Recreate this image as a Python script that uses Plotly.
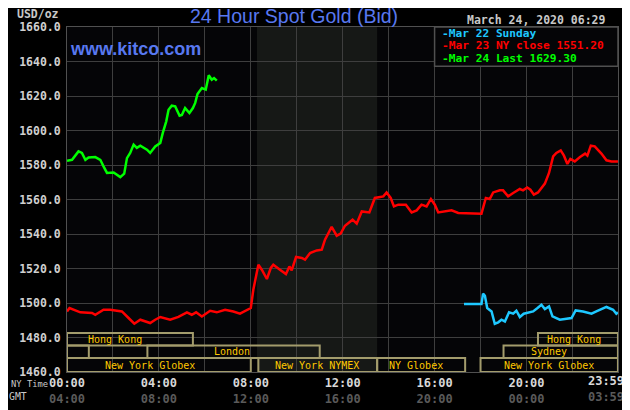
import plotly.graph_objects as go

# hours NY time (0 = 00:00, 23.983 = 23:59) and bid prices
mar24_hours = [0, 0.22, 0.5, 0.65, 0.8, 0.94, 1.23, 1.45, 1.59, 1.74, 2.03, 2.32, 2.49, 2.61, 2.75, 2.9,
               3.04, 3.19, 3.48, 3.62, 3.84, 4.06, 4.17, 4.32, 4.42, 4.56, 4.71, 4.9, 5.0, 5.14, 5.33,
               5.48, 5.58, 5.68, 5.87, 6.04, 6.17, 6.3, 6.4, 6.52]
mar24_price = [1582.5, 1583, 1587.9, 1587, 1583, 1584.4, 1584.6, 1583, 1579.2, 1575.4, 1575.7, 1573,
               1575, 1584, 1587, 1591.8, 1589.9, 1591.2, 1588.9, 1587, 1590.8, 1592.8, 1598.6, 1605.3,
               1612, 1614.4, 1614, 1608.6, 1609, 1613, 1610.1, 1613, 1616, 1621.2, 1624.6, 1623.7,
               1632, 1629.4, 1630.4, 1628.9]

mar23_hours = [0, 0.11, 0.58, 1.09, 1.23, 1.59, 1.88, 2.39, 2.68, 2.93, 3.19, 3.62, 3.84, 4.06, 4.49,
               4.85, 5.22, 5.43, 5.62, 5.87, 6.23, 6.52, 6.88, 7.24, 7.53, 7.83, 8.0, 8.11, 8.33, 8.48,
               8.7, 8.87, 8.98, 9.27, 9.53, 9.68, 9.78, 9.97, 10.22, 10.36, 10.58, 10.87, 11.09,
               11.23, 11.52, 11.74, 11.91, 12.1, 12.43, 12.61, 12.83, 13.16, 13.4, 13.77, 13.91,
               14.09, 14.23, 14.42, 14.75, 15.0, 15.22, 15.43, 15.65, 15.84, 16.01, 16.16, 16.45,
               16.74, 17.03, 17.53, 18.0, 18.04, 18.23, 18.4, 18.55, 18.84, 18.98, 19.2, 19.42,
               19.71, 19.85, 20.03, 20.17, 20.32, 20.5, 20.8, 20.98, 21.16, 21.3, 21.49, 21.63,
               21.78, 21.91, 22.1, 22.33, 22.55, 22.65, 22.8, 22.97, 23.11, 23.26, 23.48, 23.7, 23.98]
mar23_price = [1495.1, 1497.1, 1494.6, 1494.2, 1493.2, 1496.1, 1496.1, 1495.1, 1491.3, 1488, 1490.3,
               1488.4, 1490.3, 1491.9, 1490.3, 1491.9, 1494.6, 1493.2, 1494.6, 1492.2, 1495.5, 1494.6,
               1496.1, 1495.1, 1493.8, 1496.1, 1497.1, 1507.7, 1522.2, 1519.3, 1513.9, 1520.3,
               1522.2, 1519.3, 1516.8, 1521.2, 1518.9, 1526.7, 1526.1, 1525.1, 1529, 1530.5, 1530.9,
               1536.7, 1544.1, 1539, 1540.2, 1544.8, 1548.3, 1546, 1553.1, 1552.5, 1560.9, 1561.8,
               1564.1, 1560.9, 1556, 1557, 1557, 1552.5, 1553.7, 1557, 1556, 1560.3, 1557, 1552.5,
               1553.1, 1553.7, 1552.2, 1551.8, 1551.8, 1551.8, 1560.9, 1560.3, 1564.1, 1565.3,
               1565.3, 1561.8, 1563.8, 1566.1, 1565.3, 1567, 1565.7, 1562.8, 1564.1, 1569.2, 1575.4,
               1585, 1587, 1588.5, 1585.4, 1580.6, 1583.5, 1582.1, 1584.6, 1586.6, 1585.4, 1591.2,
               1590.8, 1588.9, 1586.6, 1582.7, 1582.1, 1582.1]

mar22_hours = [17.28, 18.04, 18.11, 18.19, 18.29, 18.48, 18.62, 18.77, 18.91, 19.06, 19.24, 19.42,
               19.56, 19.71, 19.88, 20.29, 20.48, 20.65, 20.8, 20.98, 21.13, 21.45, 21.96, 22.14,
               22.46, 22.83, 23.04, 23.48, 23.77, 23.91, 23.98]
mar22_price = [1499.4, 1499.4, 1505.4, 1504.2, 1497.1, 1495.1, 1488, 1488.8, 1490.3, 1489.3, 1494.6,
               1493.8, 1495.5, 1491.9, 1493.8, 1495.1, 1497.1, 1499, 1496.5, 1498, 1492.2, 1490.3,
               1491.3, 1495.7, 1495.1, 1493.8, 1495.1, 1497.7, 1496.1, 1493.8, 1494.6]

# trading sessions: name, start hour, end hour, row (0 = top row)
session_names = ['Hong Kong', '', 'London', 'New York Globex', 'New York NYMEX', 'NY Globex',
                 'New York Globex', 'Hong Kong', 'Sydney']
session_start = [0, 0, 3.5, 0, 8.33, 13.5, 18.0, 20.5, 19.0]
session_end = [5.48, 0.95, 11.0, 8.0, 13.5, 17.33, 23.98, 23.98, 23.98]
session_row = [0, 1, 1, 2, 2, 2, 2, 0, 1]
label_x = [2.11, None, 7.16, 3.63, 10.88, 15.2, 20.98, 22.06, 20.99]

ny_ticks = [0, 2, 4, 6, 8, 10, 12, 14, 16, 18, 20, 22]
ny_labels = ['00:00', '', '04:00', '', '08:00', '', '12:00', '', '16:00', '', '20:00', '']
gmt_labels = ['04:00', '', '08:00', '', '12:00', '', '16:00', '', '20:00', '', '00:00', '']

legend_names = ['-Mar 22 Sunday', '-Mar 23 NY close 1551.20', '-Mar 24 Last 1629.30']

CYAN = '#1ec8ff'
RED = '#ff0000'
GREEN = '#00ff00'
BOX = '#a39c6c'
GRID = '#3e3e3e'
MONO = 'DejaVu Sans Mono'

x_end = 23.983
row_edges = [1482.6, 1475.4, 1468.1, 1460]

data = []
data.append(go.Scatter(x=mar22_hours, y=mar22_price, mode='lines', line=dict(color=CYAN, width=2.5)))
data.append(go.Scatter(x=mar23_hours, y=mar23_price, mode='lines', line=dict(color=RED, width=2.5)))
data.append(go.Scatter(x=mar24_hours, y=mar24_price, mode='lines', line=dict(color=GREEN, width=2.5)))

ticktext = []
for a, b in zip(ny_labels, gmt_labels):
    if a:
        ticktext.append(f"{a}<br><span style='color:#5a5a5a'>{b}</span>")
    else:
        ticktext.append('')

shapes = []
# COMEX pit session shading
shapes.append(dict(type='rect', xref='x', yref='y', x0=8.27, x1=13.5, y0=1460, y1=1660,
                   fillcolor='#161816', line=dict(width=0), layer='below'))

annotations = []
for name, s, e, r, lx in zip(session_names, session_start, session_end, session_row, label_x):
    shapes.append(dict(type='rect', xref='x', yref='y', x0=s, x1=e,
                       y0=row_edges[r + 1], y1=row_edges[r],
                       line=dict(color=BOX, width=2), layer='above'))
    if name:
        annotations.append(dict(x=lx, y=(row_edges[r] + row_edges[r + 1]) / 2, xref='x', yref='y',
                                text=name, showarrow=False, xanchor='center', yanchor='middle',
                                font=dict(family=MONO, size=10, color='#ffc800')))

# legend box
shapes.append(dict(type='rect', xref='x', yref='y', x0=16.0, x1=x_end, y0=1637.2, y1=1660,
                   fillcolor='#050507', line=dict(color='#505050', width=1.5), layer='above'))
for i, (txt, col) in enumerate(zip(legend_names, [CYAN, RED, GREEN])):
    annotations.append(dict(x=16.25, y=[1656.0, 1649.2, 1641.6][i], xref='x', yref='y',
                            xanchor='left', yanchor='middle', text=txt, showarrow=False,
                            font=dict(family=MONO, size=11.2, color=col, weight='bold')))


def paper_note(text, x, y, xanchor, font):
    annotations.append(dict(x=x, y=y, xref='paper', yref='paper', xanchor=xanchor, yanchor='middle',
                            text=text, showarrow=False, font=font))


paper_note('24 Hour Spot Gold (Bid)', 0.412, 1.031, 'center',
           dict(family='Liberation Sans', size=19.5, color='#5878f0'))
paper_note('www.kitco.com', 0.002, 0.937, 'left',
           dict(family='Liberation Sans', size=18, color='#5878f0', weight='bold'))
paper_note('USD/oz', -0.0103, 1.037, 'right',
           dict(family=MONO, size=11.5, color='#c8c8c8', weight='bold'))
paper_note('March 24, 2020 06:29', 0.981, 1.021, 'right',
           dict(family=MONO, size=11.5, color='#c8c8c8', weight='bold'))
paper_note('NY Time', -0.106, -0.034, 'left',
           dict(family=MONO, size=8.8, color='#c8c8c8'))
paper_note('GMT', -0.0696, -0.0716, 'right',
           dict(family=MONO, size=9.8, color='#c8c8c8'))

layout = go.Layout(
    width=622,
    height=402,
    margin=dict(l=59, r=12, t=19, b=38),
    paper_bgcolor='#000000',
    plot_bgcolor='#050507',
    showlegend=False,
    font=dict(family=MONO, size=12, color='#d0d0d0'),
    xaxis=dict(
        range=[0, x_end],
        tickmode='array',
        tickvals=ny_ticks,
        ticktext=ticktext,
        showgrid=True,
        gridcolor=GRID,
        zeroline=False,
        showline=True,
        linecolor='#505050',
        mirror=True,
        ticks='',
        automargin=False,
        tickfont=dict(family=MONO, size=12, color='#d8d8d8', weight='bold'),
    ),
    xaxis2=dict(
        range=[0, x_end],
        overlaying='x',
        side='bottom',
        tickmode='array',
        tickvals=[x_end],
        ticktext=["23:59<br><span style='color:#5a5a5a'>03:59</span>"],
        ticklabelshift=-12,
        showgrid=False,
        zeroline=False,
        ticks='',
        automargin=False,
        tickfont=dict(family=MONO, size=12, color='#d8d8d8', weight='bold'),
    ),
    yaxis=dict(
        range=[1460, 1660],
        tickmode='linear',
        tick0=1460,
        dtick=20,
        tickformat='.1f',
        showgrid=True,
        gridcolor=GRID,
        zeroline=False,
        showline=True,
        linecolor='#505050',
        mirror=True,
        ticks='',
        ticklabelstandoff=3,
        automargin=False,
        tickfont=dict(family=MONO, size=11.5, color='#d0d0d0', weight='bold'),
    ),
    shapes=shapes,
    annotations=annotations,
)

fig = go.Figure(data=data, layout=layout)
fig.add_trace(go.Scatter(x=[x_end], y=[1460], xaxis='x2', mode='markers', marker=dict(opacity=0),
                         hoverinfo='skip'))
fig.write_html("out.html")
